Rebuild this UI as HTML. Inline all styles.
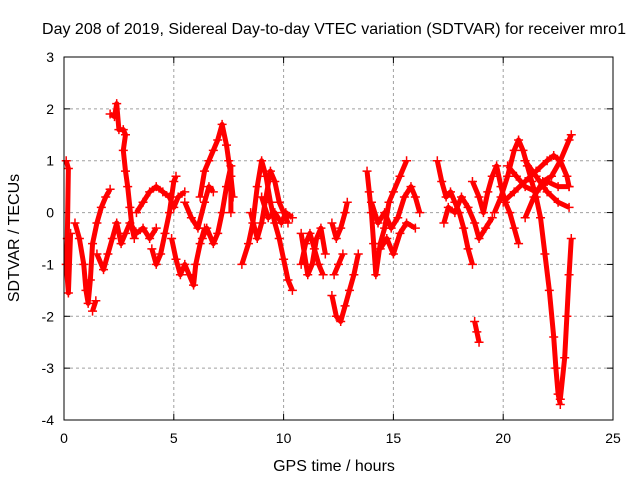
<!DOCTYPE html>
<html><head><meta charset="utf-8"><style>
body{margin:0;background:#fff}
svg{display:block;font-family:"Liberation Sans",sans-serif}
</style></head><body>
<svg id="chart" width="640" height="480" viewBox="0 0 640 480">
<text x="334" y="34" font-size="16" text-anchor="middle">Day 208 of 2019, Sidereal Day-to-day VTEC variation (SDTVAR) for receiver mro1</text>
<g id="grid"></g>
<g id="xticks"></g>
<g id="yticks"></g>
<g id="series"></g>
<rect x="64" y="57" width="549" height="363" fill="none" stroke="#000" stroke-width="1"/>
<text x="334" y="471" font-size="16" text-anchor="middle">GPS time / hours</text>
<text transform="translate(19,238) rotate(-90)" font-size="16" text-anchor="middle">SDTVAR / TECUs</text>
</svg>
<script>
const xTicks=[0,5,10,15,20,25];
const yTicks=[3,2,1,0,-1,-2,-3,-4];
const tracks=[
[[0.1,1.0],[0.2,0.85],[0.15,-0.5],[0.1,-1.0],[0.2,-1.55],[0.3,-0.4]],
[[0.5,-0.2],[0.7,-0.5],[0.9,-1.0],[1.0,-1.5],[1.1,-1.75],[1.2,-1.3],[1.3,-0.6],[1.5,-0.2],[1.7,0.1],[1.9,0.3],[2.1,0.45]],
[[1.3,-1.9],[1.45,-1.7]],
[[2.1,1.9],[2.3,1.85],[2.4,2.1],[2.5,1.6],[2.7,1.6],[2.8,1.5],[2.7,1.2],[2.8,0.8],[2.9,0.5],[3.0,0.1],[3.1,-0.3],[3.2,-0.5]],
[[1.5,-0.8],[1.8,-1.1],[2.0,-0.8],[2.2,-0.5],[2.4,-0.2],[2.6,-0.6],[2.8,-0.4],[3.0,-0.2],[3.3,-0.4],[3.6,-0.3],[3.9,-0.5],[4.2,-0.3]],
[[3.3,0.0],[3.6,0.2],[3.9,0.4],[4.2,0.5],[4.5,0.4],[4.8,0.3],[5.0,0.1],[5.2,0.3],[5.5,0.4]],
[[4.0,-0.7],[4.2,-1.0],[4.4,-0.8],[4.6,-0.4],[4.8,0.0],[5.0,0.6],[5.1,0.7]],
[[4.9,-0.5],[5.1,-0.9],[5.3,-1.2],[5.5,-1.0],[5.7,-1.2],[5.9,-1.4],[6.0,-1.0],[6.2,-0.6],[6.4,-0.3]],
[[5.5,0.2],[5.8,-0.1],[6.1,-0.3],[6.4,0.2],[6.6,0.5],[6.8,0.4]],
[[6.2,0.3],[6.4,0.8],[6.6,1.0],[6.8,1.2],[7.0,1.4],[7.2,1.7],[7.4,1.3],[7.5,1.0],[7.6,0.7],[7.7,0.3]],
[[6.3,-0.5],[6.5,-0.3],[6.8,-0.6],[7.0,-0.4],[7.2,0.0],[7.4,0.5],[7.6,0.9],[7.6,0.0]],
[[8.1,-1.0],[8.4,-0.6],[8.6,-0.2],[8.8,0.5],[9.0,1.0],[9.2,0.7],[9.4,0.2],[9.6,-0.2],[9.8,-0.5],[10.0,-0.9],[10.2,-1.3],[10.4,-1.5]],
[[8.5,0.0],[8.8,-0.5],[9.0,-0.2],[9.2,0.3],[9.4,0.8],[9.6,0.6],[9.8,0.2],[10.0,0.0],[10.2,-0.2]],
[[9.0,0.3],[9.3,-0.1],[9.6,0.0],[9.9,-0.2],[10.1,0.0],[10.4,-0.1]],
[[10.8,-1.0],[11.0,-0.6],[11.2,-0.4],[11.4,-0.7],[11.6,-1.0],[11.8,-1.2]],
[[10.8,-0.4],[11.1,-1.2],[11.3,-1.0],[11.5,-0.5],[11.7,-0.3],[11.9,-0.8]],
[[12.2,-1.6],[12.4,-2.0],[12.6,-2.1],[12.8,-1.8],[13.0,-1.5],[13.2,-1.2],[13.4,-0.8]],
[[12.2,-0.2],[12.4,-0.5],[12.6,-0.3],[12.8,0.0],[12.9,0.2]],
[[12.3,-1.2],[12.5,-1.0],[12.7,-0.8]],
[[13.8,0.8],[13.9,0.4],[14.0,0.0],[14.1,-0.6],[14.2,-1.2],[14.4,-0.6],[14.6,-0.3],[14.8,0.2],[15.0,0.4],[15.3,0.7],[15.6,1.0]],
[[14.0,0.2],[14.3,-0.2],[14.6,0.0],[14.9,-0.3],[15.2,-0.1],[15.5,0.3],[15.8,0.5],[16.0,0.3],[16.2,0.0]],
[[14.4,-0.7],[14.7,-0.5],[15.0,-0.8],[15.3,-0.4],[15.6,-0.2],[16.0,-0.3]],
[[17.0,1.0],[17.2,0.6],[17.4,0.3],[17.6,0.4],[17.8,0.2],[18.0,0.0],[18.2,-0.3],[18.4,-0.7],[18.6,-1.0]],
[[17.3,-0.2],[17.5,0.1],[17.8,0.0],[18.1,0.3],[18.4,0.1],[18.7,-0.2],[18.9,-0.5],[19.2,-0.3],[19.5,-0.1]],
[[18.7,-2.1],[18.8,-2.3],[18.9,-2.5]],
[[18.6,0.6],[18.9,0.3],[19.1,0.0],[19.3,0.4],[19.5,0.7],[19.7,0.9],[19.9,0.5],[20.1,0.2],[20.3,0.0],[20.5,-0.3],[20.7,-0.6]],
[[19.6,0.0],[19.9,0.3],[20.2,0.7],[20.5,1.2],[20.7,1.4],[20.9,1.2],[21.1,0.9],[21.3,0.6],[21.5,0.3],[21.7,-0.1],[21.9,-0.8],[22.1,-1.5],[22.3,-2.4],[22.4,-3.0],[22.5,-3.5],[22.6,-3.7]],
[[22.6,-3.6],[22.8,-2.8],[22.9,-2.0],[23.0,-1.2],[23.1,-0.5]],
[[20.0,0.2],[20.5,0.4],[21.0,0.6],[21.5,0.8],[22.0,1.0],[22.3,1.1],[22.6,1.0],[22.9,0.7],[23.0,0.5]],
[[20.2,0.9],[20.6,0.7],[21.0,0.5],[21.5,0.4],[22.0,0.6],[22.5,0.5],[23.0,0.5]],
[[21.0,-0.1],[21.4,0.3],[21.8,0.6],[22.2,0.7],[22.6,1.0],[23.0,1.4],[23.1,1.5]],
[[21.0,1.0],[21.5,0.7],[22.0,0.4],[22.5,0.2],[23.0,0.1]]
];
const NS='http://www.w3.org/2000/svg';
const X0=64,X1=613,Y0=420,Y1=57;
const sx=v=>X0+(v-0)/(25-0)*(X1-X0);
const sy=v=>Y0-(v-(-4))/(3-(-4))*(Y0-Y1);
function mk(t,a){const e=document.createElementNS(NS,t);for(const k in a)e.setAttribute(k,a[k]);return e;}
const grid=document.getElementById('grid'),gx=document.getElementById('xticks'),gy=document.getElementById('yticks'),ser=document.getElementById('series');
xTicks.forEach(t=>{const x=sx(t);
 if(t>0&&t<25){const l=mk('line',{x1:x,y1:Y1,x2:x,y2:Y0,stroke:'#a0a0a0','stroke-dasharray':'3,3'});grid.appendChild(l);}
 const tk=mk('line',{x1:x,y1:Y0,x2:x,y2:Y0-6,stroke:'#000'});gx.appendChild(tk);
 const tk2=mk('line',{x1:x,y1:Y1,x2:x,y2:Y1+6,stroke:'#000'});gx.appendChild(tk2);
 const tx=mk('text',{x:x,y:443,'font-size':14,'text-anchor':'middle'});tx.textContent=t;gx.appendChild(tx);});
yTicks.forEach(t=>{const y=sy(t);
 if(t<3&&t>-4){const l=mk('line',{x1:X0,y1:y,x2:X1,y2:y,stroke:'#a0a0a0','stroke-dasharray':'3,3'});grid.appendChild(l);}
 const tk=mk('line',{x1:X0,y1:y,x2:X0+6,y2:y,stroke:'#000'});gy.appendChild(tk);
 const tk2=mk('line',{x1:X1,y1:y,x2:X1-6,y2:y,stroke:'#000'});gy.appendChild(tk2);
 const tx=mk('text',{x:54,y:y+5,'font-size':14,'text-anchor':'end'});tx.textContent=t;gy.appendChild(tx);});
tracks.forEach(tr=>{
 const pl=mk('polyline',{points:tr.map(p=>sx(p[0])+','+sy(p[1])).join(' '),fill:'none',stroke:'#f00','stroke-width':5,'stroke-linejoin':'round'});
 
 
 ser.appendChild(pl);
 tr.forEach(p=>{const x=sx(p[0]),y=sy(p[1]);
  const m=mk('path',{d:`M${x-4.5},${y}H${x+4.5}M${x},${y-4.5}V${y+4.5}`,stroke:'#f00','stroke-width':1.5});
  
  
  ser.appendChild(m);});
});
</script>
</body></html>
